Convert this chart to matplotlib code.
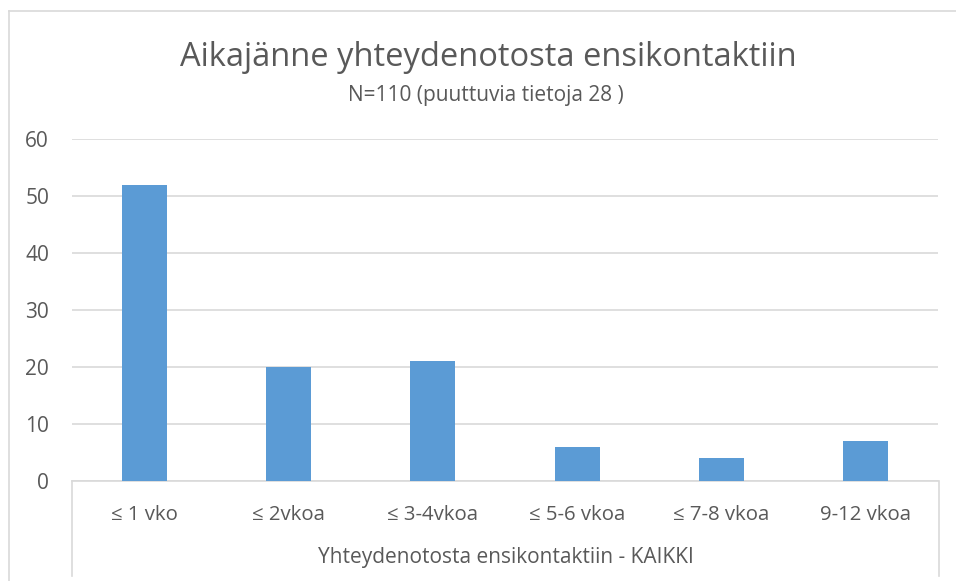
import matplotlib.pyplot as plt
from matplotlib.lines import Line2D

categories = ['≤ 1 vko', '≤ 2vkoa', '≤ 3-4vkoa', '≤ 5-6 vkoa', '≤ 7-8 vkoa', '9-12 vkoa']
values = [52, 20, 21, 6, 4, 7]
yticks = [0, 10, 20, 30, 40, 50, 60]

title = 'Aikajänne yhteydenotosta ensikontaktiin'
subtitle = 'N=110 (puuttuvia tietoja 28 )'
xlabel = 'Yhteydenotosta ensikontaktiin - KAIKKI'

plt.rcParams['font.family'] = ['Open Sans', 'DejaVu Sans']
text_color = '#595959'
grid_color = '#d9d9d9'
bar_color = '#5b9bd5'

W, H = 956, 581
fig = plt.figure(figsize=(W / 100, H / 100), dpi=100)
ax = fig.add_axes([72 / W, 1 - 481 / H, (938 - 72) / W, (481 - 139) / H])

x = list(range(len(categories)))
ax.bar(x, values, width=0.31, color=bar_color, zorder=3)
ax.set_xlim(-0.5, len(categories) - 0.5)
ax.set_ylim(0, 60)
ax.set_yticks(yticks)
ax.set_yticklabels([str(v) for v in yticks], fontsize=15, color=text_color)
ax.set_xticks(x)
ax.set_xticklabels(categories, fontsize=14.7, color=text_color)
ax.tick_params(axis='both', length=0)
ax.tick_params(axis='y', pad=16.5)
ax.tick_params(axis='x', pad=17)
ax.grid(axis='y', color=grid_color, linewidth=1.2, zorder=0)
for s in ['top', 'right', 'left']:
    ax.spines[s].set_visible(False)
ax.spines['bottom'].set_color(grid_color)
ax.spines['bottom'].set_linewidth(1.2)

# category table lines under the axis
fig.add_artist(Line2D([72 / W, 72 / W], [1 - 481 / H, 1 - 576 / H], color=grid_color, lw=1.2))
fig.add_artist(Line2D([938.5 / W, 938.5 / W], [1 - 481 / H, 1 - 576 / H], color=grid_color, lw=1.2))

fig.text(505.5 / W, 1 - 557 / H, xlabel, ha='center', va='center', fontsize=15, color=text_color)

# chart frame
fig.add_artist(Line2D([8.5 / W, 8.5 / W], [0, 1 - 11 / H], color=grid_color, lw=1.2))
fig.add_artist(Line2D([8.5 / W, 1], [1 - 11 / H, 1 - 11 / H], color=grid_color, lw=1.2))

fig.text(488 / W, 1 - 58 / H, title, ha='center', va='center', fontsize=23.5, color=text_color)
fig.text(486 / W, 1 - 95 / H, subtitle, ha='center', va='center', fontsize=15, color=text_color)

fig.savefig('out.png', dpi=100)
